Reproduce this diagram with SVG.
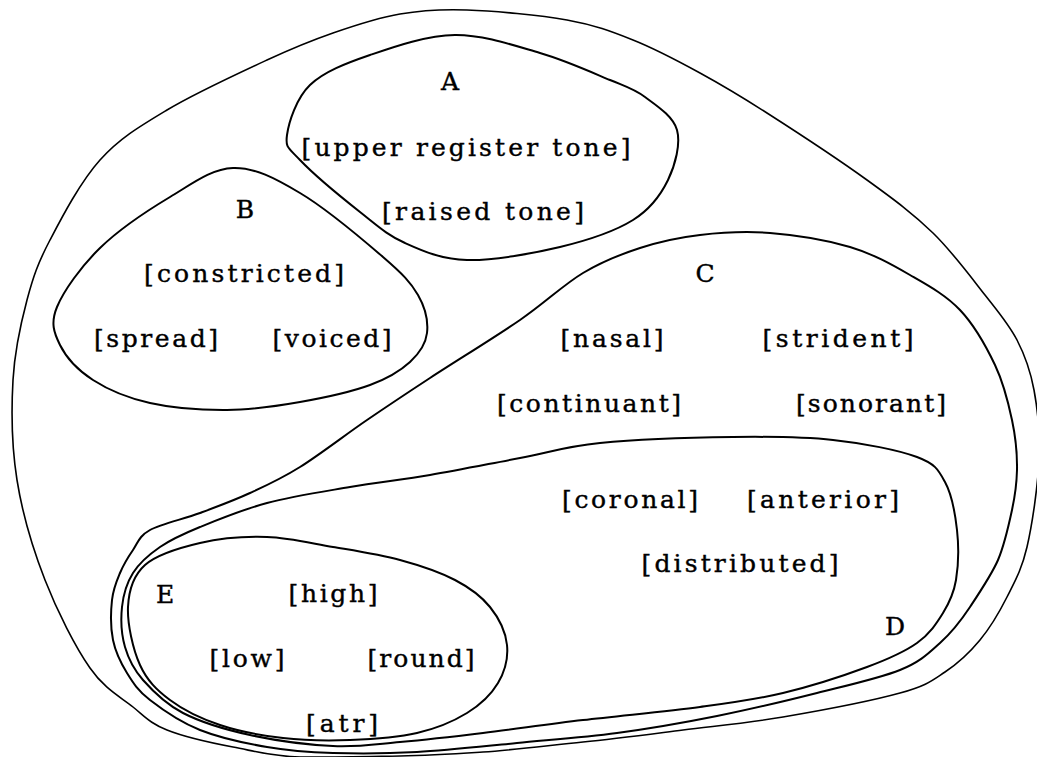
<svg xmlns="http://www.w3.org/2000/svg" width="1037" height="757" viewBox="0 0 1037 757">
<style>
.r{fill:none;stroke:#000;stroke-width:2;stroke-linejoin:round}
.o{stroke-width:1.6}
text{font-family:"DejaVu Serif","Liberation Serif",serif;font-size:25px;fill:#000;text-anchor:middle;stroke:#000;stroke-width:0.4}
</style>
<rect width="1037" height="757" fill="#fff"/>
<g id="outer">
<path class="r o" d="M13,380 C14.7,350 20.8,323.3 27,300 S37.8,263.3 50,240 S80.5,181.7 100,160 S139.2,126.7 167,110 S239.3,72.8 267,60 S310.8,40.7 333,33 S377.7,17.8 400,14 S439.2,9 467,10 S539.3,15 567,20 S610.8,31.2 633,40 S677.7,60.8 700,73 S739.2,95.2 767,113 S839.3,160 867,180 S913.3,213.8 933,233 S971,277.2 985,295 S1008.8,324.2 1017,340 S1030.3,370 1034,390 S1040.2,433.8 1039,460 S1032.3,524.2 1027,547 S1014.8,581.5 1007,597 S990.3,627.5 980,640 S958.3,663.2 945,672 S927,685.5 900,693 S819.2,710.8 783,717 S716.3,725.8 683,730 S616.3,738.7 583,742 S513.5,750 483,752 S430.5,755.5 400,756 S327.8,757.5 300,757 S255.2,751.2 233,747 S183.7,736.7 167,730 S145.8,717.3 133,707 S104.7,689.2 90,668 S57.2,611.3 45,580 S22.3,513.3 17,480 S11.3,410 13,380 Z"/>
</g>
<g id="A">
<path class="r" d="M287,135 C288.7,122.5 296.2,98.3 310,85 S345.8,63.3 370,55 S426.7,35.3 455,35 S514.2,45.5 540,53 S592.5,72.7 610,80 S633.8,88.7 645,97 S673.2,116.2 677,130 S675.3,165 668,180 S651,208.8 633,220 S587.7,240.3 560,247 S492.8,260.7 467,260 S422.8,251 405,243 S377.5,225.8 360,212 S312.2,172.8 300,160 S285.3,147.5 287,135 Z"/>
<text x="450" y="90">A</text>
<text x="466" y="156" textLength="329" lengthAdjust="spacing">[upper register tone]</text>
<text x="483" y="220" textLength="202" lengthAdjust="spacing">[raised tone]</text>
</g>
<g id="B">
<path class="r" d="M233,168 C254.7,167.3 275,178.2 300,193 S363.3,240 383,257 S410.7,282.3 418,295 S428.3,321.8 427,333 S419.5,353.3 410,362 S388.3,378.3 370,385 S323.8,397.8 300,402 S252,409.8 227,410 S172.3,408 150,403 S108,389.7 93,380 S66,357.2 60,345 S50.3,323.2 57,307 S81.2,266.3 100,248 S147.8,210.3 170,197 S211.3,168.7 233,168 Z"/>
<text x="245" y="218">B</text>
<text x="244" y="282" textLength="200" lengthAdjust="spacing">[constricted]</text>
<text x="156" y="347" textLength="124" lengthAdjust="spacing">[spread]</text>
<text x="332" y="347" textLength="119" lengthAdjust="spacing">[voiced]</text>
</g>
<g id="C">
<path class="r" d="M112,600 C113.2,588.8 116.5,581.3 120,573 S128,557.2 133,550 S138.8,536.2 150,530 S183.3,519.2 200,513 S233.3,500.7 250,493 S280.5,479.2 300,467 S345.3,434.8 367,420 S404.5,394.7 430,378 S494.5,337.5 520,320 S563,285 583,273 S620.5,254.3 640,248 S678.3,237.5 700,235 S745,231 770,233 S826.7,240 850,247 S891.7,264.5 910,275 S945.8,295 960,310 S986.3,346.7 995,365 S1008.3,402.5 1012,420 S1017.3,454.2 1017,470 S1015,496 1012,510 S1004,546 998,560 S978.8,593.7 970,607 S951.7,632.5 940,643 S920.5,661.7 900,670 S847.5,685.3 817,693 S750.3,709.3 717,716 S650.3,728.5 617,733 S550.3,739.8 517,743 S447.7,750.3 417,752 S358,753.8 333,753 S289.2,750.8 267,747 S219.5,737.8 200,730 S162.2,709.5 150,700 S133.2,683 127,673 S115.5,652.2 113,640 S110.8,611.2 112,600 Z"/>
<text x="705" y="282">C</text>
<text x="612" y="347" textLength="103" lengthAdjust="spacing">[nasal]</text>
<text x="838" y="347" textLength="151" lengthAdjust="spacing">[strident]</text>
<text x="589" y="412" textLength="184" lengthAdjust="spacing">[continuant]</text>
<text x="871" y="412" textLength="150" lengthAdjust="spacing">[sonorant]</text>
</g>
<g id="D">
<path class="r" d="M122,607 C123.3,594.7 126.7,583 133,573 S148.8,554.7 160,547 S182.2,534.3 200,527 S242,509.7 267,503 S322.8,491.7 350,487 S401.7,479.8 430,475 S491.7,463.3 520,458 S564.5,446.5 600,443 S694.2,437.5 733,437 S802.3,436.7 833,440 S898.3,450 917,457 S938.3,469.8 945,482 S955.2,513.7 957,530 S958.3,566.2 956,580 S949.5,602.5 943,613 S929.7,634 917,643 S889.3,658.7 867,667 S810.8,686.3 783,693 S733.3,702.5 700,707 S619.2,715.7 583,720 S513.5,729.3 483,733 S425,739.8 400,742 S358,747.2 333,746 S275,740.5 250,735 S200.8,722.2 183,713 S152.7,691 143,680 S128.5,659.2 125,647 S120.7,619.3 122,607 Z"/>
<text x="630" y="508" textLength="136" lengthAdjust="spacing">[coronal]</text>
<text x="823" y="508" textLength="152" lengthAdjust="spacing">[anterior]</text>
<text x="740" y="572" textLength="197" lengthAdjust="spacing">[distributed]</text>
<text x="895" y="635">D</text>
</g>
<g id="E">
<path class="r" d="M128,607 C128.8,590.3 133,575.7 145,565 S179.7,547.7 200,543 S244.8,536.3 267,537 S310.8,543.2 333,547 S379.7,554.5 400,560 S440,572.2 455,580 S481.3,596.2 490,607 S505.7,632.3 507,645 S504.7,671.7 498,683 S480.5,704.7 467,713 S436.5,728.5 417,733 S372.3,739.2 350,740 S304.7,740.5 283,738 S238.8,731.3 220,725 S183.3,710 170,700 S147,680.5 140,665 S127.2,623.7 128,607 Z"/>
<text x="165" y="603">E</text>
<text x="333" y="602" textLength="89" lengthAdjust="spacing">[high]</text>
<text x="247" y="667" textLength="75" lengthAdjust="spacing">[low]</text>
<text x="421" y="667" textLength="107" lengthAdjust="spacing">[round]</text>
<text x="342" y="732" textLength="72" lengthAdjust="spacing">[atr]</text>
</g>
<g id="connectors"/>
</svg>
